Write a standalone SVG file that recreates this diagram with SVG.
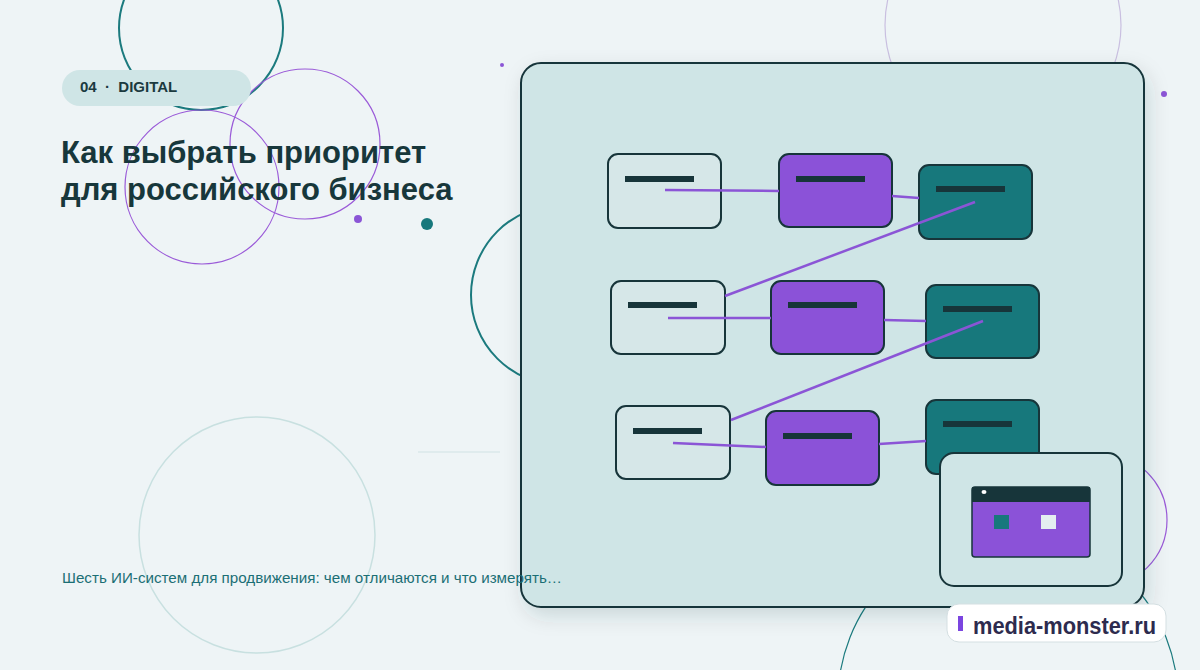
<svg xmlns="http://www.w3.org/2000/svg" width="1200" height="670" viewBox="0 0 1200 670">
<defs>
<style>
.lt{fill:#d6e7e8;stroke:#17353a;stroke-width:2}
.pu{fill:#8b52d8;stroke:#17353a;stroke-width:2}
.te{fill:#17787c;stroke:#17353a;stroke-width:2}
.bar{fill:#17353a}
.c{stroke:#8b55d6;stroke-width:2.5;fill:none}
text{font-family:"Liberation Sans",Arial,sans-serif}
</style>
<filter id="sh" x="-10%" y="-10%" width="125%" height="125%"><feDropShadow dx="4" dy="8" stdDeviation="10" flood-color="#1b3a3f" flood-opacity="0.15"/></filter>
</defs>
<rect width="1200" height="670" fill="#eef4f6"/>
<g fill="none">
<circle cx="201" cy="28" r="82" stroke="#1b7a7e" stroke-width="2"/>
<circle cx="305" cy="144" r="75" stroke="#9a5ad8" stroke-width="1.2"/>
<circle cx="202" cy="187" r="77" stroke="#9a5ad8" stroke-width="1.2"/>
<circle cx="561" cy="295" r="90" stroke="#1b7a7e" stroke-width="2"/>
<circle cx="1003" cy="25" r="118" stroke="#c9bfe0" stroke-width="1.2"/>
<circle cx="1100" cy="520" r="67" stroke="#9a5ad8" stroke-width="1.2"/>
<circle cx="1008" cy="700" r="170" stroke="#1b7a7e" stroke-width="1.2"/>
<circle cx="257" cy="535" r="118" stroke="#c8e0e0" stroke-width="1.5"/>
<line x1="418" y1="452" x2="500" y2="452" stroke="#d0e2e4" stroke-width="1"/>
</g>
<circle cx="502" cy="65" r="2" fill="#8b55d6"/>
<circle cx="358" cy="219" r="4" fill="#8b55d6"/>
<circle cx="427" cy="224" r="6" fill="#17787c"/>
<circle cx="1164" cy="94" r="3" fill="#8b55d6"/>
<g id="tag"><rect x="62" y="70" width="189" height="36" rx="18" fill="#cfe5e6"/><text x="80" y="92" font-size="15" font-weight="bold" fill="#1b3a3f" xml:space="preserve">04  ·  DIGITAL</text></g>
<g id="title" font-size="31" font-weight="bold" fill="#17373b"><text x="61" y="163">Как выбрать приоритет</text><text x="61" y="200">для российского бизнеса</text></g>
<g id="panel"><rect x="521" y="63" width="623" height="544" rx="20" fill="#cfe5e6" stroke="#17353a" stroke-width="2" filter="url(#sh)"/></g>
<text x="62" y="583" font-size="15" fill="#1b6f75" textLength="500" lengthAdjust="spacingAndGlyphs">Шесть ИИ-систем для продвижения: чем отличаются и что измерять…</text>
<g id="n1"><rect class="lt" x="608" y="154" width="113" height="74" rx="10"/><rect class="bar" x="625" y="176" width="69" height="6"/></g>
<g id="n2"><rect class="pu" x="779" y="154" width="113" height="73" rx="10"/><rect class="bar" x="796" y="176" width="69" height="6"/></g>
<g id="n3"><rect class="te" x="919" y="165" width="113" height="74" rx="10"/><rect class="bar" x="936" y="186" width="69" height="6"/></g>
<g id="n4"><rect class="lt" x="611" y="281" width="114" height="73" rx="10"/><rect class="bar" x="628" y="302" width="69" height="6"/></g>
<g id="n5"><rect class="pu" x="771" y="281" width="113" height="73" rx="10"/><rect class="bar" x="788" y="302" width="69" height="6"/></g>
<g id="n6"><rect class="te" x="926" y="285" width="113" height="73" rx="10"/><rect class="bar" x="943" y="306" width="69" height="6"/></g>
<g id="n7"><rect class="lt" x="616" y="406" width="114" height="73" rx="10"/><rect class="bar" x="633" y="428" width="69" height="6"/></g>
<g id="n8"><rect class="pu" x="766" y="411" width="113" height="74" rx="10"/><rect class="bar" x="783" y="433" width="69" height="6"/></g>
<g id="n9"><rect class="te" x="926" y="400" width="113" height="74" rx="10"/><rect class="bar" x="943" y="421" width="69" height="6"/></g>
<g id="connectors">
<line class="c" x1="665" y1="190" x2="779" y2="191"/>
<line class="c" x1="892" y1="196" x2="919" y2="198"/>
<line class="c" x1="975" y1="202" x2="725" y2="296"/>
<line class="c" x1="668" y1="318" x2="771" y2="318"/>
<line class="c" x1="884" y1="320" x2="926" y2="321"/>
<line class="c" x1="983" y1="321" x2="731" y2="420"/>
<line class="c" x1="673" y1="443" x2="766" y2="447"/>
<line class="c" x1="879" y1="444" x2="926" y2="441"/>
</g>
<g id="card"><rect x="940" y="453" width="182" height="133" rx="14" fill="#cfe5e6" stroke="#17353a" stroke-width="2"/>
<rect x="972" y="487" width="118" height="70" rx="3" fill="#8b52d8" stroke="#17353a" stroke-width="1.5"/>
<rect x="972" y="487" width="118" height="15" fill="#17353a"/>
<ellipse cx="984" cy="492" rx="2.5" ry="2" fill="#fff"/>
<rect x="994" y="515" width="15" height="14" fill="#17787c"/>
<rect x="1041" y="515" width="15" height="14" fill="#e4eef0"/></g>
<g id="brand"><rect x="947" y="604" width="219" height="38" rx="12" fill="#ffffff" stroke="#d4dfe2" stroke-width="1"/>
<rect x="958" y="616" width="5" height="15" fill="#7b45e0"/>
<text x="973" y="634" font-size="23" font-weight="bold" fill="#2d2b4e" textLength="183" lengthAdjust="spacingAndGlyphs">media-monster.ru</text></g>
</svg>
